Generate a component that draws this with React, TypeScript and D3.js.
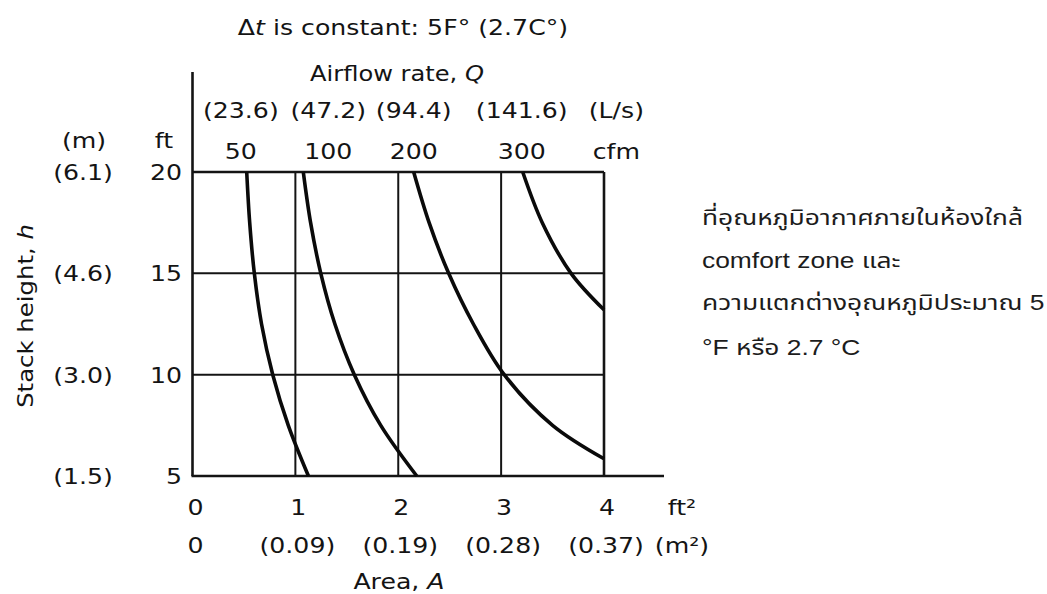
import React from "react";
import * as d3 from "d3";

// Stack-effect airflow chart: stack height h (ft) against opening area A (ft²)
// for constant-airflow curves at Δt = 5F°.

const areaTicksFt = [0, 1, 2, 3, 4];
const areaTicksM = ["0", "(0.09)", "(0.19)", "(0.28)", "(0.37)"];
const heightTicksFt = [20, 15, 10, 5];
const heightTicksM = ["(6.1)", "(4.6)", "(3.0)", "(1.5)"];
const flowCfm = ["50", "100", "200", "300"];
const flowLs = ["(23.6)", "(47.2)", "(94.4)", "(141.6)"];

// Each curve: [area ft², stack height ft]
const curve50: [number, number][] = [
  [0.527, 20], [0.556, 17.5], [0.601, 15], [0.671, 12.5], [0.78, 10], [0.931, 7.5], [1.127, 5],
];
const curve100: [number, number][] = [
  [1.077, 20], [1.148, 17.5], [1.247, 15], [1.384, 12.5], [1.573, 10], [1.83, 7.5], [2.18, 5],
];
const curve200: [number, number][] = [
  [2.15, 20], [2.3, 17.5], [2.49, 15], [2.73, 12.5], [3.03, 10], [3.5, 7.5], [4.0, 5.85],
];
const curve300: [number, number][] = [
  [3.21, 20], [3.4, 17.5], [3.68, 15], [4.0, 13.2],
];
const curves = [curve50, curve100, curve200, curve300];

const noteLines = [
  "ที่อุณหภูมิอากาศภายในห้องใกล้",
  "comfort zone และ",
  "ความแตกต่างอุณหภูมิประมาณ 5",
  "°F หรือ 2.7 °C",
];

const FONT = "'DejaVu Sans', Verdana, sans-serif";
const INK = "#141414";
const SX = 1.2;

function Label(props: {
  x: number;
  y: number;
  anchor?: "start" | "middle" | "end";
  size?: number;
  rotate?: number;
  sx?: number;
  children: React.ReactNode;
}) {
  const { x, y, anchor = "middle", size = 21, rotate = 0, sx = SX, children } = props;
  return (
    <text
      transform={`translate(${x},${y}) rotate(${rotate}) scale(${sx},1)`}
      textAnchor={anchor}
      fontFamily={FONT}
      fontSize={size}
      fill={INK}
    >
      {children}
    </text>
  );
}

export default function App() {
  const W = 1047;
  const H = 594;
  const x = d3.scaleLinear().domain([0, 4]).range([192.5, 604]);
  const y = d3.scaleLinear().domain([5, 20]).range([476, 172]);

  const line = d3
    .line<[number, number]>()
    .x((d) => x(d[0]))
    .y((d) => y(d[1]))
    .curve(d3.curveCatmullRom.alpha(0.5));

  // horizontal positions (in area units) of the airflow labels above the plot
  const flowAt = [0.47, 1.32, 2.15, 3.2];
  const unitAt = 4.12;

  return (
    <svg
      width={W}
      height={H}
      style={{ position: "absolute", left: 0, top: 0, background: "#fff" }}
    >
      {/* grid */}
      <g stroke={INK} strokeWidth={2} fill="none">
        {[1, 2, 3].map((a) => (
          <line key={"v" + a} x1={x(a)} x2={x(a)} y1={y(20)} y2={y(5)} />
        ))}
        {[15, 10].map((h) => (
          <line key={"h" + h} x1={x(0)} x2={x(4)} y1={y(h)} y2={y(h)} />
        ))}
      </g>

      {/* frame and axes */}
      <g stroke={INK} strokeWidth={2.6} fill="none">
        <line x1={x(0)} x2={x(0)} y1={72} y2={y(5)} />
        <line x1={x(0)} x2={x(4)} y1={y(20)} y2={y(20)} />
        <line x1={x(4)} x2={x(4)} y1={y(20)} y2={y(5)} />
        <line x1={x(0) - 1} x2={664} y1={y(5)} y2={y(5)} />
      </g>

      {/* constant-airflow curves */}
      <g stroke="#0a0a0a" strokeWidth={3.6} fill="none">
        {curves.map((c, i) => (
          <path key={i} d={line(c) || ""} />
        ))}
      </g>

      {/* title and top airflow scale */}
      <Label x={403} y={35}>
        Δ<tspan fontStyle="italic">t</tspan> is constant: 5F° (2.7C°)
      </Label>
      <Label x={397} y={81} sx={1.15}>
        Airflow rate, <tspan fontStyle="italic">Q</tspan>
      </Label>
      {flowLs.map((t, i) => (
        <Label key={"ls" + i} x={x(flowAt[i])} y={118}>
          {t}
        </Label>
      ))}
      <Label x={x(unitAt)} y={118}>
        (L/s)
      </Label>
      {flowCfm.map((t, i) => (
        <Label key={"cfm" + i} x={x(flowAt[i])} y={159}>
          {t}
        </Label>
      ))}
      <Label x={x(unitAt)} y={159}>
        cfm
      </Label>

      {/* left axis */}
      <Label x={84} y={148}>
        (m)
      </Label>
      <Label x={164} y={148}>
        ft
      </Label>
      {heightTicksFt.map((h) => (
        <Label key={"hf" + h} x={182} y={y(h) + 8} anchor="end">
          {String(h)}
        </Label>
      ))}
      {heightTicksM.map((t, i) => (
        <Label key={"hm" + i} x={83} y={y(heightTicksFt[i]) + 8}>
          {t}
        </Label>
      ))}
      <Label x={33} y={316} rotate={-90} sx={1.16}>
        Stack height, <tspan fontStyle="italic">h</tspan>
      </Label>

      {/* bottom axis */}
      {areaTicksFt.map((a) => (
        <Label key={"af" + a} x={x(a) + 3} y={515}>
          {String(a)}
        </Label>
      ))}
      <Label x={682} y={515}>
        ft²
      </Label>
      {areaTicksM.map((t, i) => (
        <Label key={"am" + i} x={x(areaTicksFt[i]) + (i === 0 ? 3 : 2)} y={553}>
          {t}
        </Label>
      ))}
      <Label x={682} y={553}>
        (m²)
      </Label>
      <Label x={399} y={589}>
        Area, <tspan fontStyle="italic">A</tspan>
      </Label>

      {/* side note */}
      {noteLines.map((t, i) => (
        <text
          key={"n" + i}
          transform={`translate(702,${[225, 268, 310, 355][i]}) scale(1.2,1)`}
          fontFamily="'Liberation Sans', 'Noto Sans Thai', 'Noto Sans', Arial, sans-serif"
          fontSize={22}
          fill="#1c1c1c"
        >
          {t}
        </text>
      ))}
    </svg>
  );
}
